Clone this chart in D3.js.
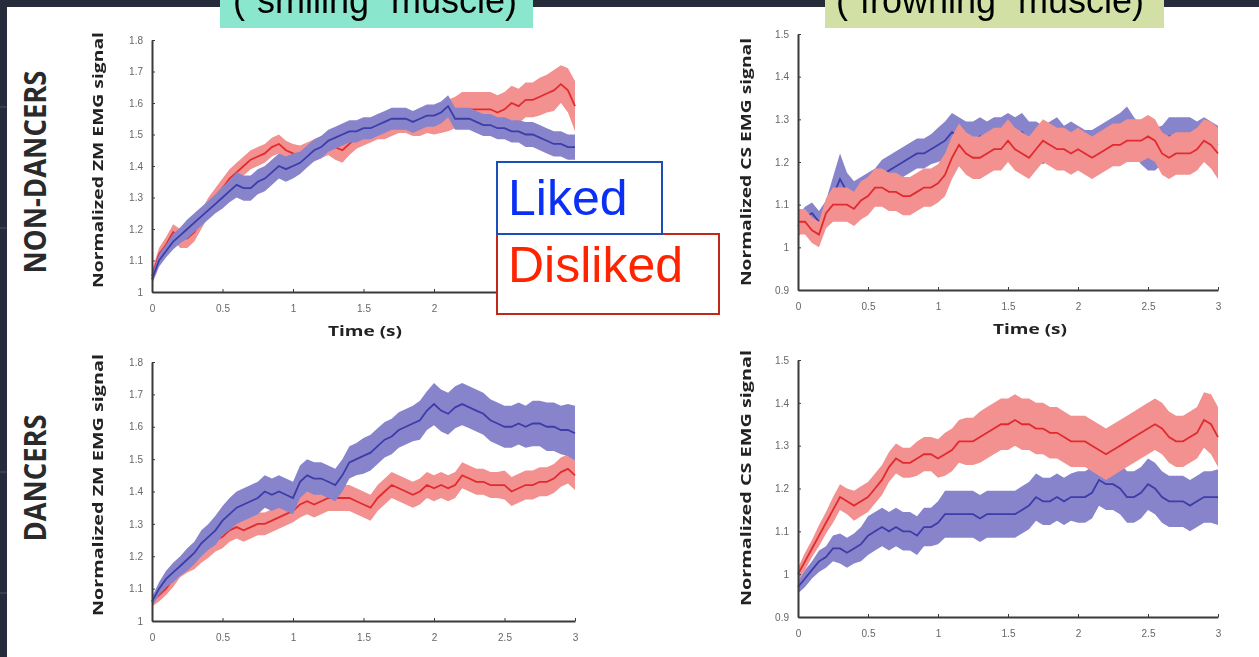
<!DOCTYPE html>
<html>
<head>
<meta charset="utf-8">
<script src="https://cdn.jsdelivr.net/npm/d3@7/dist/d3.min.js"></script>
<style>
    body { margin: 0; background: #262c3a; overflow: hidden; }
    .tick text { font-family: "Liberation Sans", sans-serif; font-size: 10px; fill: #666; }
    .axis path, .axis line { stroke: #3a3a3a; }
    .axis path { stroke-width: 2; }
    .axis-label { font-family: "Open Sans", sans-serif; font-weight: 700; fill: #222; }
    .row-label { font-family: "Open Sans", sans-serif; font-weight: 700; fill: #2a2a2a; }
    .banner-text { font-family: "Liberation Sans", Arial, sans-serif; font-size: 36px; fill: #000; }
    .legend-text { font-family: "Liberation Sans", Arial, sans-serif; font-size: 50px; }
</style>
</head>
<body>
<div id="chart"></div>
<script>

// Time samples (s)
var times = [0, 0.05, 0.1, 0.15, 0.2, 0.25, 0.3, 0.35, 0.4, 0.45, 0.5, 0.55, 0.6, 0.65, 0.7, 0.75, 0.8, 0.85, 0.9, 0.95, 1,
    1.05, 1.1, 1.15, 1.2, 1.25, 1.3, 1.35, 1.4, 1.45, 1.5, 1.55, 1.6, 1.65, 1.7, 1.75, 1.8, 1.85, 1.9, 1.95, 2,
    2.05, 2.1, 2.15, 2.2, 2.25, 2.3, 2.35, 2.4, 2.45, 2.5, 2.55, 2.6, 2.65, 2.7, 2.75, 2.8, 2.85, 2.9, 2.95, 3];

var xTicks = [0, 0.5, 1, 1.5, 2, 2.5, 3];
var zmTicks = [1, 1.1, 1.2, 1.3, 1.4, 1.5, 1.6, 1.7, 1.8];
var csTicks = [0.9, 1, 1.1, 1.2, 1.3, 1.4, 1.5];

// NON-DANCERS, ZM (smiling)
var ndZmLiked = [1.04, 1.10, 1.13, 1.16, 1.18, 1.20, 1.22, 1.24, 1.26, 1.28, 1.30, 1.32, 1.34, 1.33, 1.33, 1.35, 1.36, 1.38, 1.40, 1.39, 1.40,
    1.41, 1.43, 1.45, 1.46, 1.48, 1.49, 1.50, 1.51, 1.51, 1.52, 1.52, 1.53, 1.54, 1.55, 1.55, 1.55, 1.54, 1.55, 1.56, 1.56,
    1.57, 1.59, 1.55, 1.55, 1.55, 1.54, 1.53, 1.53, 1.52, 1.52, 1.51, 1.51, 1.50, 1.50, 1.49, 1.48, 1.47, 1.47, 1.46, 1.46];
var ndZmLikedSem = [0.015, 0.02, 0.02, 0.025, 0.025, 0.03, 0.03, 0.03, 0.03, 0.03, 0.035, 0.035, 0.04, 0.04, 0.04, 0.04, 0.04, 0.04, 0.04, 0.04, 0.04,
    0.035, 0.035, 0.035, 0.035, 0.035, 0.035, 0.035, 0.035, 0.035, 0.035, 0.035, 0.035, 0.035, 0.035, 0.035, 0.035, 0.035, 0.035, 0.035, 0.035,
    0.035, 0.035, 0.035, 0.035, 0.035, 0.035, 0.035, 0.035, 0.035, 0.035, 0.035, 0.035, 0.04, 0.04, 0.04, 0.04, 0.04, 0.04, 0.04, 0.04];
var ndZmDisliked = [1.05, 1.12, 1.15, 1.19, 1.17, 1.17, 1.19, 1.23, 1.27, 1.30, 1.33, 1.36, 1.38, 1.40, 1.42, 1.43, 1.44, 1.46, 1.47, 1.45, 1.44,
    1.43, 1.44, 1.45, 1.46, 1.47, 1.46, 1.45, 1.47, 1.49, 1.50, 1.51, 1.52, 1.52, 1.53, 1.54, 1.54, 1.53, 1.53, 1.54, 1.54,
    1.55, 1.56, 1.57, 1.58, 1.58, 1.58, 1.58, 1.58, 1.57, 1.58, 1.60, 1.59, 1.61, 1.61, 1.62, 1.63, 1.64, 1.66, 1.64, 1.59];
var ndZmDislikedSem = [0.02, 0.02, 0.025, 0.025, 0.03, 0.03, 0.03, 0.03, 0.03, 0.03, 0.03, 0.03, 0.03, 0.03, 0.03, 0.03, 0.03, 0.03, 0.03, 0.03, 0.03,
    0.035, 0.035, 0.035, 0.035, 0.035, 0.04, 0.04, 0.035, 0.035, 0.035, 0.035, 0.035, 0.035, 0.035, 0.035, 0.035, 0.035, 0.035, 0.035, 0.04,
    0.045, 0.05, 0.05, 0.055, 0.055, 0.055, 0.055, 0.055, 0.055, 0.055, 0.055, 0.055, 0.055, 0.055, 0.06, 0.06, 0.065, 0.06, 0.07, 0.08];

// NON-DANCERS, CS (frowning)
var ndCsLiked = [1.05, 1.07, 1.08, 1.06, 1.08, 1.12, 1.16, 1.13, 1.12, 1.13, 1.14, 1.15, 1.17, 1.18, 1.19, 1.20, 1.21, 1.22, 1.22, 1.23, 1.24,
    1.25, 1.27, 1.26, 1.25, 1.25, 1.26, 1.25, 1.26, 1.26, 1.27, 1.26, 1.27, 1.25, 1.25, 1.24, 1.25, 1.26, 1.24, 1.25, 1.24,
    1.23, 1.23, 1.24, 1.25, 1.26, 1.27, 1.28, 1.26, 1.24, 1.23, 1.23, 1.24, 1.26, 1.26, 1.26, 1.26, 1.25, 1.26, 1.25, 1.24];
var ndCsLikedSem = [0.025, 0.025, 0.025, 0.025, 0.03, 0.045, 0.06, 0.045, 0.035, 0.035, 0.035, 0.035, 0.035, 0.035, 0.035, 0.035, 0.035, 0.035, 0.035, 0.035, 0.04,
    0.045, 0.045, 0.045, 0.045, 0.045, 0.045, 0.045, 0.045, 0.045, 0.045, 0.045, 0.045, 0.045, 0.045, 0.045, 0.045, 0.045, 0.045, 0.045, 0.045,
    0.045, 0.045, 0.045, 0.045, 0.045, 0.045, 0.05, 0.045, 0.045, 0.05, 0.05, 0.045, 0.045, 0.045, 0.045, 0.045, 0.045, 0.045, 0.045, 0.045];
var ndCsDisliked = [1.06, 1.06, 1.04, 1.03, 1.08, 1.10, 1.10, 1.10, 1.09, 1.11, 1.12, 1.14, 1.14, 1.13, 1.13, 1.12, 1.12, 1.13, 1.14, 1.14, 1.15,
    1.17, 1.21, 1.24, 1.22, 1.21, 1.21, 1.22, 1.23, 1.23, 1.25, 1.23, 1.22, 1.21, 1.23, 1.25, 1.24, 1.23, 1.23, 1.22, 1.23,
    1.22, 1.21, 1.22, 1.23, 1.24, 1.24, 1.25, 1.25, 1.25, 1.26, 1.25, 1.22, 1.21, 1.22, 1.22, 1.22, 1.23, 1.25, 1.24, 1.22];
var ndCsDislikedSem = [0.03, 0.03, 0.03, 0.03, 0.035, 0.04, 0.04, 0.04, 0.04, 0.045, 0.045, 0.045, 0.045, 0.045, 0.045, 0.045, 0.045, 0.045, 0.045, 0.045, 0.045,
    0.05, 0.05, 0.05, 0.05, 0.05, 0.05, 0.05, 0.05, 0.05, 0.05, 0.05, 0.05, 0.05, 0.05, 0.05, 0.05, 0.05, 0.05, 0.05, 0.05,
    0.05, 0.05, 0.05, 0.05, 0.05, 0.05, 0.05, 0.05, 0.05, 0.05, 0.05, 0.05, 0.05, 0.05, 0.05, 0.05, 0.05, 0.05, 0.055, 0.06];

// DANCERS, ZM (smiling)
var dZmLiked = [1.06, 1.10, 1.13, 1.15, 1.17, 1.19, 1.21, 1.24, 1.26, 1.28, 1.31, 1.33, 1.35, 1.36, 1.37, 1.38, 1.40, 1.39, 1.40, 1.39, 1.38,
    1.43, 1.45, 1.44, 1.44, 1.43, 1.42, 1.45, 1.49, 1.50, 1.51, 1.52, 1.54, 1.56, 1.57, 1.59, 1.60, 1.61, 1.62, 1.65, 1.67,
    1.65, 1.64, 1.66, 1.67, 1.66, 1.65, 1.64, 1.62, 1.61, 1.60, 1.60, 1.61, 1.60, 1.61, 1.61, 1.60, 1.60, 1.59, 1.59, 1.58];
var dZmLikedSem = [0.015, 0.02, 0.025, 0.03, 0.03, 0.035, 0.035, 0.04, 0.04, 0.045, 0.045, 0.05, 0.05, 0.05, 0.05, 0.05, 0.05, 0.05, 0.05, 0.05, 0.05,
    0.05, 0.05, 0.05, 0.05, 0.05, 0.05, 0.05, 0.05, 0.05, 0.055, 0.055, 0.055, 0.055, 0.055, 0.055, 0.055, 0.055, 0.06, 0.06, 0.065,
    0.065, 0.065, 0.065, 0.065, 0.065, 0.065, 0.065, 0.065, 0.065, 0.065, 0.065, 0.065, 0.065, 0.07, 0.07, 0.075, 0.075, 0.075, 0.08, 0.085];
var dZmDisliked = [1.06, 1.08, 1.10, 1.13, 1.16, 1.18, 1.19, 1.21, 1.23, 1.25, 1.26, 1.28, 1.29, 1.28, 1.29, 1.30, 1.30, 1.31, 1.32, 1.33, 1.34,
    1.36, 1.37, 1.36, 1.37, 1.38, 1.38, 1.38, 1.38, 1.37, 1.36, 1.35, 1.38, 1.40, 1.42, 1.41, 1.40, 1.39, 1.40, 1.42, 1.41,
    1.42, 1.41, 1.42, 1.45, 1.44, 1.43, 1.43, 1.42, 1.42, 1.42, 1.40, 1.41, 1.42, 1.42, 1.43, 1.43, 1.44, 1.46, 1.47, 1.45];
var dZmDislikedSem = [0.015, 0.02, 0.02, 0.025, 0.025, 0.03, 0.03, 0.03, 0.035, 0.035, 0.035, 0.035, 0.035, 0.035, 0.035, 0.035, 0.035, 0.035, 0.035, 0.035, 0.035,
    0.04, 0.04, 0.04, 0.04, 0.04, 0.04, 0.04, 0.04, 0.04, 0.04, 0.04, 0.04, 0.04, 0.04, 0.04, 0.04, 0.04, 0.04, 0.04, 0.04,
    0.04, 0.04, 0.04, 0.04, 0.04, 0.04, 0.04, 0.04, 0.04, 0.045, 0.045, 0.045, 0.045, 0.045, 0.045, 0.045, 0.045, 0.045, 0.045, 0.045];

// DANCERS, CS (frowning)
var dCsLiked = [0.97, 0.99, 1.01, 1.03, 1.04, 1.06, 1.06, 1.05, 1.06, 1.07, 1.09, 1.10, 1.11, 1.10, 1.11, 1.10, 1.10, 1.09, 1.11, 1.11, 1.12,
    1.14, 1.14, 1.14, 1.14, 1.14, 1.13, 1.14, 1.14, 1.14, 1.14, 1.14, 1.15, 1.16, 1.18, 1.17, 1.17, 1.18, 1.17, 1.18, 1.18,
    1.18, 1.19, 1.22, 1.21, 1.21, 1.20, 1.18, 1.18, 1.19, 1.21, 1.20, 1.18, 1.17, 1.17, 1.17, 1.16, 1.17, 1.18, 1.18, 1.18];
var dCsLikedSem = [0.015, 0.02, 0.02, 0.025, 0.025, 0.03, 0.035, 0.035, 0.035, 0.04, 0.045, 0.045, 0.045, 0.045, 0.045, 0.045, 0.045, 0.045, 0.045, 0.045, 0.05,
    0.055, 0.055, 0.055, 0.055, 0.055, 0.055, 0.055, 0.055, 0.055, 0.055, 0.055, 0.055, 0.055, 0.055, 0.055, 0.055, 0.055, 0.055, 0.055, 0.06,
    0.06, 0.06, 0.06, 0.06, 0.06, 0.06, 0.06, 0.06, 0.06, 0.06, 0.06, 0.06, 0.06, 0.06, 0.06, 0.06, 0.06, 0.06, 0.06, 0.065];
var dCsDisliked = [1.00, 1.03, 1.06, 1.09, 1.12, 1.15, 1.18, 1.17, 1.16, 1.17, 1.18, 1.20, 1.22, 1.25, 1.27, 1.26, 1.26, 1.27, 1.28, 1.28, 1.27,
    1.28, 1.29, 1.31, 1.31, 1.31, 1.32, 1.33, 1.34, 1.35, 1.35, 1.36, 1.35, 1.35, 1.34, 1.34, 1.33, 1.33, 1.32, 1.31, 1.31,
    1.31, 1.30, 1.29, 1.28, 1.29, 1.30, 1.31, 1.32, 1.33, 1.34, 1.35, 1.34, 1.32, 1.31, 1.31, 1.32, 1.33, 1.36, 1.35, 1.32];
var dCsDislikedSem = [0.015, 0.02, 0.02, 0.025, 0.025, 0.03, 0.03, 0.03, 0.035, 0.035, 0.035, 0.035, 0.035, 0.035, 0.035, 0.035, 0.035, 0.04, 0.04, 0.04, 0.045,
    0.05, 0.05, 0.05, 0.055, 0.055, 0.06, 0.06, 0.06, 0.06, 0.06, 0.06, 0.06, 0.06, 0.06, 0.06, 0.06, 0.06, 0.06, 0.06, 0.06,
    0.06, 0.06, 0.06, 0.06, 0.06, 0.06, 0.06, 0.06, 0.06, 0.06, 0.06, 0.06, 0.06, 0.06, 0.06, 0.06, 0.06, 0.065, 0.07, 0.07];


var colors = {
    likedBand: "#8884cc", likedLine: "#3c3ca8",
    dislikedBand: "#f39090", dislikedLine: "#e22c2e"
};


/*
 *  EmgPanel - one mean +/- SEM panel
 *  @param _svg      -- parent selection
 *  @param _config   -- placement and axis settings
 *  @param _series   -- { liked, likedSem, disliked, dislikedSem }
 */

EmgPanel = function(_svg, _config, _series) {
    this.svg = _svg;
    this.config = _config;
    this.series = _series;
    this.initVis();
};

EmgPanel.prototype.initVis = function() {
    var vis = this;
    var c = vis.config;

    vis.g = vis.svg.append("g")
        .attr("filter", "url(#soft)");

    vis.x = d3.scaleLinear().domain([0, 3]).range([c.left, c.right]);
    vis.y = d3.scaleLinear().domain(c.yDomain).range([c.bottom, c.top]);

    vis.xAxis = d3.axisBottom(vis.x)
        .tickValues(xTicks)
        .tickSizeInner(-3)
        .tickSizeOuter(0)
        .tickPadding(13)
        .tickFormat(function(d) { return String(+d.toFixed(1)); });

    vis.yAxis = d3.axisLeft(vis.y)
        .tickValues(c.yTicks)
        .tickSizeInner(-3)
        .tickSizeOuter(0)
        .tickPadding(9)
        .tickFormat(function(d) { return String(+d.toFixed(1)); });

    vis.bandLayer = vis.g.append("g");

    vis.g.append("g")
        .attr("class", "x-axis axis")
        .attr("transform", "translate(0," + c.bottom + ")")
        .call(vis.xAxis);

    vis.g.append("g")
        .attr("class", "y-axis axis")
        .attr("transform", "translate(" + c.left + ",0)")
        .call(vis.yAxis);

    // axis labels
    vis.g.append("text")
        .attr("class", "axis-label")
        .attr("transform", "translate(" + c.yLabelX + "," + c.yLabelY + ") rotate(-90)")
        .attr("text-anchor", "middle")
        .attr("dominant-baseline", "central")
        .attr("font-size", 14)
        .attr("textLength", c.yLabelLen)
        .attr("lengthAdjust", "spacingAndGlyphs")
        .text(c.yLabel);

    if (c.timeX) {
        vis.g.append("text")
            .attr("class", "axis-label")
            .attr("x", c.timeX)
            .attr("y", c.bottom + 44)
            .attr("text-anchor", "middle")
            .attr("font-size", 14)
            .attr("textLength", 74)
            .attr("lengthAdjust", "spacingAndGlyphs")
            .text("Time (s)");
    }

    vis.wrangleData();
};

EmgPanel.prototype.wrangleData = function() {
    var vis = this;
    var s = vis.series;

    vis.liked = times.map(function(t, i) { return { t: t, m: s.liked[i], e: s.likedSem[i] }; });
    vis.disliked = times.map(function(t, i) { return { t: t, m: s.disliked[i], e: s.dislikedSem[i] }; });

    vis.updateVis();
};

EmgPanel.prototype.updateVis = function() {
    var vis = this;

    var area = d3.area()
        .x(function(d) { return vis.x(d.t); })
        .y0(function(d) { return vis.y(d.m - d.e); })
        .y1(function(d) { return vis.y(d.m + d.e); });

    var line = d3.line()
        .x(function(d) { return vis.x(d.t); })
        .y(function(d) { return vis.y(d.m); });

    var layers = [
        { key: "liked", rows: vis.liked, band: colors.likedBand, stroke: colors.likedLine },
        { key: "disliked", rows: vis.disliked, band: colors.dislikedBand, stroke: colors.dislikedLine }
    ];
    // whichever condition sits on top is drawn last
    if (vis.config.onTop === "liked") layers.reverse();

    layers.forEach(function(l) {
        vis.bandLayer.append("path")
            .datum(l.rows)
            .attr("d", area)
            .attr("fill", l.band);

        vis.bandLayer.append("path")
            .datum(l.rows)
            .attr("d", line)
            .attr("fill", "none")
            .attr("stroke", l.stroke)
            .attr("stroke-width", 1.8);
    });
};


// page
var width = 1259, height = 657;

var svg = d3.select("#chart").append("svg")
    .attr("width", width)
    .attr("height", height);

svg.append("defs").append("filter")
    .attr("id", "soft")
    .append("feGaussianBlur")
    .attr("stdDeviation", 0.45);

svg.append("rect").attr("width", width).attr("height", height).attr("fill", "#262c3a");
svg.append("rect").attr("x", 7).attr("y", 7).attr("width", width - 7).attr("height", height - 7).attr("fill", "#ffffff");

// slide guide marks on the dark edge
[107, 228, 472, 593].forEach(function(yy) {
    svg.append("line").attr("x1", 0).attr("x2", 7).attr("y1", yy).attr("y2", yy)
        .attr("stroke", "#4a5264").attr("stroke-width", 1);
});

new EmgPanel(svg, {
    left: 152, right: 575, top: 40, bottom: 292, yDomain: [1, 1.8], yTicks: zmTicks,
    yLabel: "Normalized ZM EMG signal", yLabelX: 97, yLabelY: 160, yLabelLen: 256,
    timeX: 365, onTop: "liked"
}, { liked: ndZmLiked, likedSem: ndZmLikedSem, disliked: ndZmDisliked, dislikedSem: ndZmDislikedSem });

new EmgPanel(svg, {
    left: 798, right: 1218, top: 34, bottom: 290, yDomain: [0.9, 1.5], yTicks: csTicks,
    yLabel: "Normalized CS EMG signal", yLabelX: 745, yLabelY: 162, yLabelLen: 248,
    timeX: 1030, onTop: "disliked"
}, { liked: ndCsLiked, likedSem: ndCsLikedSem, disliked: ndCsDisliked, dislikedSem: ndCsDislikedSem });

new EmgPanel(svg, {
    left: 152, right: 575, top: 362, bottom: 621, yDomain: [1, 1.8], yTicks: zmTicks,
    yLabel: "Normalized ZM EMG signal", yLabelX: 97, yLabelY: 485, yLabelLen: 262,
    timeX: null, onTop: "liked"
}, { liked: dZmLiked, likedSem: dZmLikedSem, disliked: dZmDisliked, dislikedSem: dZmDislikedSem });

new EmgPanel(svg, {
    left: 798, right: 1218, top: 360, bottom: 617, yDomain: [0.9, 1.5], yTicks: csTicks,
    yLabel: "Normalized CS EMG signal", yLabelX: 745, yLabelY: 478, yLabelLen: 256,
    timeX: null, onTop: "disliked"
}, { liked: dCsLiked, likedSem: dCsLikedSem, disliked: dCsDisliked, dislikedSem: dCsDislikedSem });

// row labels
svg.append("text")
    .attr("class", "row-label")
    .attr("transform", "translate(34,172) rotate(-90)")
    .attr("text-anchor", "middle")
    .attr("dominant-baseline", "central")
    .attr("font-size", 30)
    .attr("textLength", 203)
    .attr("lengthAdjust", "spacingAndGlyphs")
    .text("NON-DANCERS");

svg.append("text")
    .attr("class", "row-label")
    .attr("transform", "translate(34,478) rotate(-90)")
    .attr("text-anchor", "middle")
    .attr("dominant-baseline", "central")
    .attr("font-size", 30)
    .attr("textLength", 127)
    .attr("lengthAdjust", "spacingAndGlyphs")
    .text("DANCERS");

// muscle banners (cut off at the top edge)
svg.append("rect").attr("x", 220).attr("y", 0).attr("width", 313).attr("height", 28).attr("fill", "#8ae6cc");
svg.append("text").attr("class", "banner-text").attr("x", 233).attr("y", 13).text("(\u201csmiling\u201d muscle)");

svg.append("rect").attr("x", 825).attr("y", 0).attr("width", 339).attr("height", 28).attr("fill", "#d2e0a6");
svg.append("text").attr("class", "banner-text").attr("x", 836).attr("y", 13).text("(\u201cfrowning\u201d muscle)");

// legend
svg.append("rect")
    .attr("x", 497).attr("y", 234).attr("width", 222).attr("height", 80)
    .attr("fill", "#fff").attr("stroke", "#c0281a").attr("stroke-width", 2);
svg.append("rect")
    .attr("x", 497).attr("y", 162).attr("width", 165).attr("height", 72)
    .attr("fill", "#fff").attr("stroke", "#1a4fb8").attr("stroke-width", 2);

svg.append("text").attr("class", "legend-text")
    .attr("x", 508).attr("y", 215).attr("fill", "#0a2ff5").text("Liked");
svg.append("text").attr("class", "legend-text")
    .attr("x", 508).attr("y", 282).attr("fill", "#ff2400").text("Disliked");

</script>
</body>
</html>
